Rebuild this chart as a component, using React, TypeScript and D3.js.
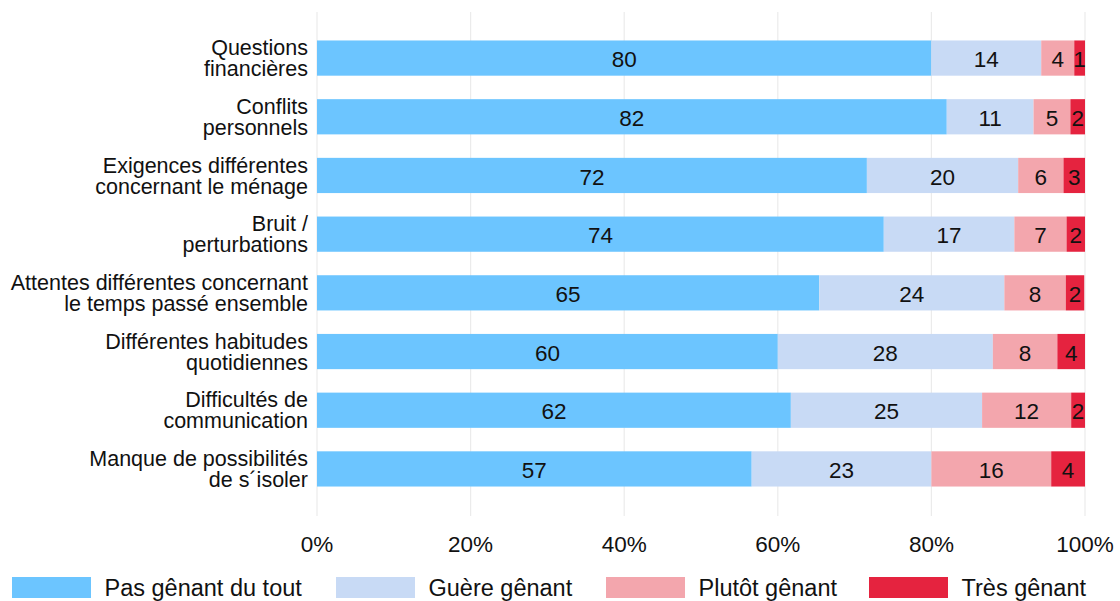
import React from 'react'
import * as d3 from 'd3'

const categories = [
  ['Questions', 'financières'],
  ['Conflits', 'personnels'],
  ['Exigences différentes', 'concernant le ménage'],
  ['Bruit /', 'perturbations'],
  ['Attentes différentes concernant', 'le temps passé ensemble'],
  ['Différentes habitudes', 'quotidiennes'],
  ['Difficultés de', 'communication'],
  ['Manque de possibilités', 'de s´isoler'],
]

const seriesNames = ['Pas gênant du tout', 'Guère gênant', 'Plutôt gênant', 'Très gênant']
const seriesColors = ['#6cc5ff', '#c8daf5', '#f3a6ad', '#e5233f']

// share per category, in %
const pasGenant = [80.0, 82.0, 71.6, 73.8, 65.4, 60.0, 61.7, 56.6]
const guereGenant = [14.3, 11.3, 19.7, 17.0, 24.1, 28.0, 24.9, 23.4]
const plutotGenant = [4.3, 4.8, 5.9, 6.8, 8.0, 8.4, 11.6, 15.6]
const tresGenant = [1.4, 1.9, 2.8, 2.4, 2.4, 3.6, 1.8, 4.4]

const tickValues = [0, 20, 40, 60, 80, 100]

const W = 1120
const H = 601
const font = "'Liberation Sans', Arial, sans-serif"

export default function App() {
  const series = [pasGenant, guereGenant, plutotGenant, tresGenant]
  const rows = categories.map((c, i) => {
    const row: any = { key: i }
    seriesNames.forEach((s, j) => (row[s] = series[j][i]))
    return row
  })
  const stacked = d3.stack<any>().keys(seriesNames)(rows)

  const x = d3.scaleLinear().domain([0, 100]).range([317, 1085])
  const y = d3
    .scaleBand<number>()
    .domain(categories.map((_, i) => i))
    .range([12, 515])
    .paddingInner(0.4)
    .paddingOuter(0.485)

  const legendX = [12, 336, 606, 869]

  return (
    <svg
      width={W}
      height={H}
      style={{ position: 'absolute', left: 0, top: 0, background: '#fff', fontFamily: font }}
    >
      <g>
        {tickValues.map((t) => (
          <line key={t} x1={x(t)} x2={x(t)} y1={12} y2={516} stroke="#ebebeb" strokeWidth={1.2} />
        ))}
      </g>
      <g>
        {stacked.map((layer, j) => (
          <g key={layer.key} fill={seriesColors[j]}>
            {layer.map((d, i) => (
              <rect
                key={i}
                x={x(d[0])}
                y={y(i)}
                width={x(d[1]) - x(d[0])}
                height={y.bandwidth()}
              />
            ))}
          </g>
        ))}
      </g>
      <g fontSize={22.5} fill="#111" textAnchor="middle">
        {stacked.map((layer, j) =>
          layer.map((d, i) => (
            <text
              key={`${j}-${i}`}
              x={(x(d[0]) + x(d[1])) / 2}
              y={(y(i) ?? 0) + y.bandwidth() / 2 + 1}
              dy="0.36em"
            >
              {Math.round(series[j][i])}
            </text>
          ))
        )}
      </g>
      <g fontSize={21.5} fill="#111" textAnchor="end">
        {categories.map((c, i) => {
          const cy = (y(i) ?? 0) + y.bandwidth() / 2
          return (
            <text key={i} x={308}>
              <tspan x={308} y={cy - 10.5} dy="0.36em">{c[0]}</tspan>
              <tspan x={308} y={cy + 10.5} dy="0.36em">{c[1]}</tspan>
            </text>
          )
        })}
      </g>
      <g fontSize={22.5} fill="#111" textAnchor="middle">
        {tickValues.map((t) => (
          <text key={t} x={x(t)} y={552}>{`${t}%`}</text>
        ))}
      </g>
      <g fontSize={23.5} fill="#111">
        {seriesNames.map((s, j) => (
          <g key={s} transform={`translate(${legendX[j]},577)`}>
            <rect width={79} height={21} fill={seriesColors[j]} />
            <text x={92.5} y={19}>{s}</text>
          </g>
        ))}
      </g>
    </svg>
  )
}
